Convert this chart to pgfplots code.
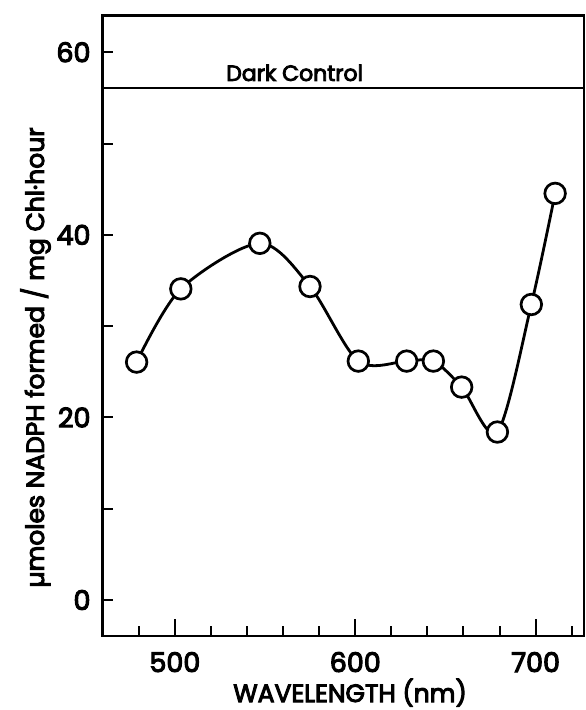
\documentclass[border=0pt]{standalone}
\usepackage{pgfplots}
\pgfplotsset{compat=1.18}
\usepackage{fontspec}
\setmainfont{Poppins}[FakeBold=4]

\begin{document}
\begin{tikzpicture}
\begin{axis}[
  scale only axis, width=481.3bp, height=620.3bp,
  xmin=460, xmax=726.8, ymin=-3.94, ymax=64,
  axis line style={line width=2.6bp},
  xtick={500,600,700},
  minor xtick={480,520,540,560,580,620,640,660,680,720},
  ytick={0,20,40,60}, minor ytick={0,10,20,30,40,50,60},
  xtick pos=bottom, ytick pos=left, tick align=inside,
  major tick length=17bp, minor tick length=10bp,
  tick style={line width=2bp, black},
  major y tick style={draw=none},
  ticklabel style={font=\fontsize{27bp}{32bp}\selectfont, inner sep=0pt},
  /pgf/number format/assume math mode=true,
  xticklabel style={anchor=base, yshift=-36bp},
  yticklabel style={anchor=east, xshift=-12bp},
  label style={font=\fontsize{25bp}{30bp}\selectfont, inner sep=0pt},
  xlabel={WAVELENGTH (nm)},
  ylabel={µmoles NADPH formed / mg Chl·hour},
  xlabel style={at={(axis description cs:0.514,-0.1064)}, anchor=base},
  ylabel style={at={(axis description cs:-0.122,0.449)}, anchor=base},
  clip=false,
]
% dark control level
\addplot[line width=1.8bp, black] coordinates {(460,56.1) (726.8,56.1)};
\node[font=\fontsize{22bp}{26bp}\selectfont, anchor=base, inner sep=0pt]
  at (axis cs:566.4,56.86) {Dark Control};

\addplot[smooth, line width=2.8bp, black, mark=*, mark size=10.3bp,
  mark options={fill=white, draw=black, line width=2.7bp}] coordinates {
  (478.8,26.06) (503.3,34.08) (547.1,39.07) (574.9,34.34) (601.7,26.17)
  (628.5,26.17) (643.3,26.17) (659.0,23.32) (678.8,18.40) (697.6,32.37)
  (710.8,44.54)
};
\end{axis}
\pgfresetboundingbox
\path[use as bounding box] (-102.7bp,-74bp) rectangle (483.3bp,636bp);
\end{tikzpicture}
\end{document}
